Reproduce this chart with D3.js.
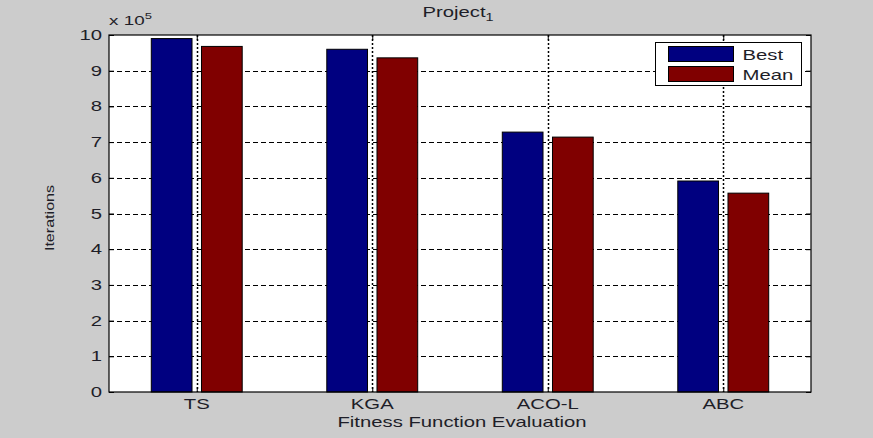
<!DOCTYPE html>
<html>
<head>
<meta charset="utf-8">
<script src="https://cdn.jsdelivr.net/npm/d3@7"></script>
<style>
  html, body { margin: 0; padding: 0; background: #cccccc; }
  svg { display: block; font-family: "Liberation Sans", Arial, sans-serif; }
</style>
</head>
<body>
<svg id="chart" width="873" height="438"></svg>
<script>
// Iterations (x 10^5) per fitness-function-evaluation method
const categories = ["TS", "KGA", "ACO-L", "ABC"];
const seriesNames = ["Best", "Mean"];
const bestValues = [9.90, 9.60, 7.28, 5.91];
const meanValues = [9.68, 9.36, 7.14, 5.57];
const yTicks = [0, 1, 2, 3, 4, 5, 6, 7, 8, 9, 10];
const colors = ["#000080", "#800000"];

const W = 873, H = 438;
const m = { left: 109, right: 62, top: 35, bottom: 46 };
const pw = W - m.left - m.right, ph = H - m.top - m.bottom;
const SX = 1.45;          // horizontal stretch of the wide label lettering
const TXT = "#1e1e28";

const svg = d3.select("#chart");
const g = svg.append("g").attr("transform", `translate(${m.left},${m.top})`);

const x = d3.scaleLinear().domain([0.5, 4.5]).range([0, pw]);
const y = d3.scaleLinear().domain([0, 10]).range([ph, 0]);

// writes a horizontally stretched label anchored at (px, py)
function label(parent, px, py, anchor, size) {
  return parent.append("text")
    .attr("transform", `translate(${px},${py}) scale(${SX},1)`)
    .attr("text-anchor", anchor)
    .style("font-size", size + "px")
    .attr("fill", TXT);
}

// plot background
g.append("rect").attr("width", pw).attr("height", ph).attr("fill", "#fff");

// horizontal dashed grid
g.append("g").selectAll("line").data(yTicks.filter(t => t > 0 && t < 10)).join("line")
  .attr("x1", 0).attr("x2", pw)
  .attr("y1", d => Math.round(y(d)) + 0.5).attr("y2", d => Math.round(y(d)) + 0.5)
  .attr("stroke", "#000").attr("stroke-width", 1).attr("stroke-dasharray", "5,3");

// vertical dotted grid
g.append("g").selectAll("line").data(d3.range(1, categories.length + 1)).join("line")
  .attr("x1", d => Math.round(x(d)) + 0.5).attr("x2", d => Math.round(x(d)) + 0.5)
  .attr("y1", 0).attr("y2", ph)
  .attr("stroke", "#000").attr("stroke-width", 1.5).attr("stroke-dasharray", "2,2");

// grouped bars
const unit = x(2) - x(1);
const barW = 0.232 * unit;
const offs = [-0.143 * unit, 0.143 * unit];
[bestValues, meanValues].forEach((vals, si) => {
  g.append("g").selectAll("rect").data(vals).join("rect")
    .attr("x", (d, i) => x(i + 1) + offs[si] - barW / 2)
    .attr("y", d => y(d))
    .attr("width", barW)
    .attr("height", d => ph - y(d))
    .attr("fill", colors[si])
    .attr("stroke", "#000").attr("stroke-width", 1);
});

// axes: inward ticks on all four sides
const axL = d3.axisLeft(y).tickValues(yTicks).tickSize(-5).tickFormat("");
const axR = d3.axisRight(y).tickValues(yTicks).tickSize(-5).tickFormat("");
const axB = d3.axisBottom(x).tickValues(d3.range(1, 5)).tickSize(-5).tickFormat("");
const axT = d3.axisTop(x).tickValues(d3.range(1, 5)).tickSize(-5).tickFormat("");
[[axL, 0, 0], [axR, pw, 0], [axB, 0, ph], [axT, 0, 0]].forEach(([ax, tx, ty]) => {
  const a = g.append("g").attr("transform", `translate(${tx},${ty})`).call(ax);
  a.select(".domain").remove();
  a.selectAll("line").attr("stroke", "#000");
});
g.append("rect").attr("width", pw).attr("height", ph).attr("fill", "none")
  .attr("stroke", "#000").attr("stroke-width", 1.2);

// tick labels
yTicks.forEach(t => {
  label(g, -7, y(t) + 5, "end", 14).text(d3.format("d")(t));
});
categories.forEach((c, i) => {
  label(g, x(i + 1), ph + 17, "middle", 14).text(c);
});

// exponent label
const ex = label(svg, m.left, 25, "start", 13);
ex.append("tspan").text("x 10");
ex.append("tspan").attr("dy", -6).style("font-size", "9px").text("5");

// title
const tt = label(svg, 458, 17, "middle", 14);
tt.append("tspan").text("Project");
tt.append("tspan").attr("dy", 4).style("font-size", "10px").text("1");

// axis titles
label(svg, m.left + pw / 2 + 2, 427, "middle", 14).text("Fitness Function Evaluation");
svg.append("text")
  .attr("transform", `translate(54,218) rotate(-90) scale(1.15,0.85)`)
  .attr("text-anchor", "middle").style("font-size", "14px").attr("fill", TXT)
  .text("Iterations");

// legend
const lg = svg.append("g").attr("transform", "translate(655.5,42.5)");
lg.append("rect").attr("width", 146).attr("height", 43).attr("fill", "#fff")
  .attr("stroke", "#000").attr("stroke-width", 1);
seriesNames.forEach((name, i) => {
  lg.append("rect").attr("x", 13).attr("y", 4 + i * 20).attr("width", 65).attr("height", 15)
    .attr("fill", colors[i]).attr("stroke", "#000");
  label(lg, 87, 17 + i * 20, "start", 14).text(name);
});
</script>
</body>
</html>
